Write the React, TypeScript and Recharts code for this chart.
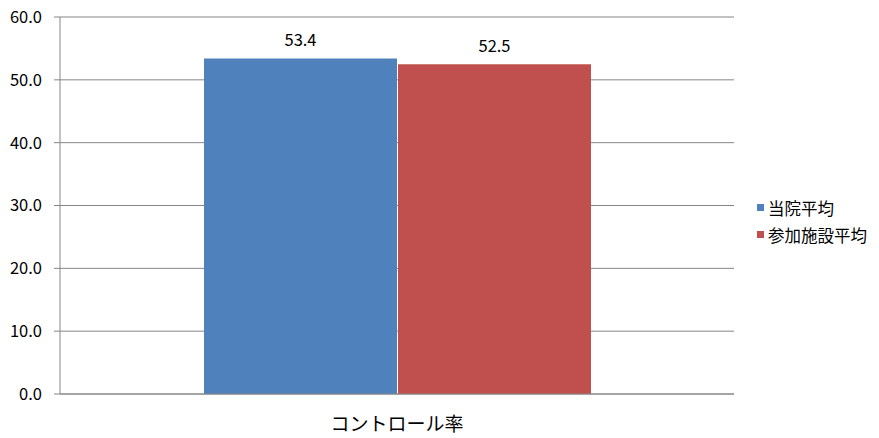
import React from "react";
import {
  BarChart,
  Bar,
  XAxis,
  YAxis,
  CartesianGrid,
  LabelList,
} from "recharts";

const categories = ["コントロール率"];
const hospitalAvg = [53.4];
const participantAvg = [52.5];
const yTicks = [0, 10, 20, 30, 40, 50, 60];

const SERIES = [
  { key: "hospital", name: "当院平均", color: "#4F81BD" },
  { key: "participant", name: "参加施設平均", color: "#C0504D" },
];

const data = categories.map((c, i) => ({
  name: c,
  hospital: hospitalAvg[i],
  participant: participantAvg[i],
}));

const FONT = "'Noto Sans CJK JP', 'Liberation Sans', sans-serif";
const AXIS = "#868686";

const LegendBox = () => (
  <div
    style={{
      position: "absolute",
      left: 757,
      top: 194,
      fontFamily: FONT,
      fontSize: 16.5,
      color: "#000",
    }}
  >
    {SERIES.map((s) => (
      <div key={s.key} style={{ display: "flex", alignItems: "center", height: 27 }}>
        <span
          style={{
            display: "inline-block",
            width: 7,
            height: 7,
            background: s.color,
            marginRight: 4,
          }}
        />
        <span>{s.name}</span>
      </div>
    ))}
  </div>
);

export default function App() {
  return (
    <div style={{ position: "absolute", left: 0, top: 0, width: 879, height: 438, background: "#fff" }}>
      <BarChart
        width={879}
        height={438}
        data={data}
        margin={{ top: 17, right: 145, left: 0, bottom: 0 }}
        barGap={1}
      >
        <CartesianGrid horizontal vertical={false} stroke={AXIS} strokeWidth={1} />
        <XAxis
          dataKey="name"
          axisLine={{ stroke: AXIS }}
          tickLine={false}
          height={44}
          tickMargin={18}
          tick={{ fill: "#000", fontSize: 19, fontFamily: FONT }}
        />
        <YAxis
          domain={[0, 60]}
          ticks={yTicks}
          width={60}
          tickFormatter={(v: number) => v.toFixed(1)}
          axisLine={{ stroke: AXIS }}
          tickLine={{ stroke: AXIS }}
          tickSize={6}
          tickMargin={12}
          tick={{ fill: "#000", fontSize: 16.5, fontFamily: FONT }}
        />
        {SERIES.map((s) => (
          <Bar
            key={s.key}
            dataKey={s.key}
            name={s.name}
            fill={s.color}
            barSize={193}
            isAnimationActive={false}
          >
            <LabelList
              dataKey={s.key}
              position="top"
              offset={12}
              formatter={(v: number) => v.toFixed(1)}
              style={{ fill: "#000", fontSize: 16.5, fontFamily: FONT }}
            />
          </Bar>
        ))}
      </BarChart>
      <LegendBox />
    </div>
  );
}
